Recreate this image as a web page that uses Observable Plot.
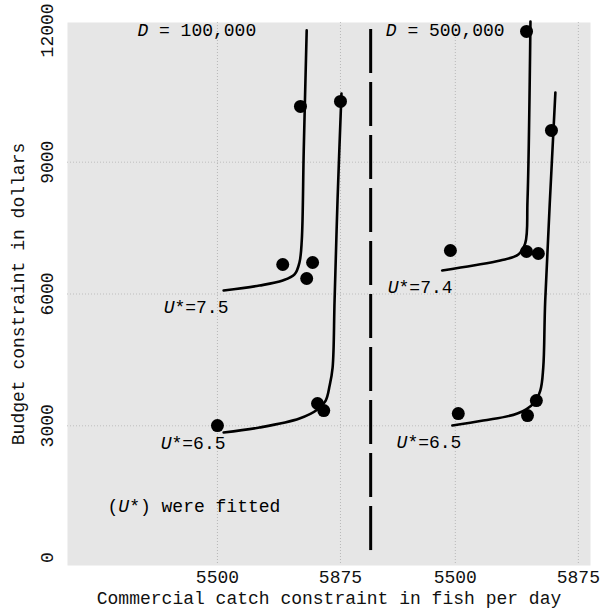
<!DOCTYPE html>
<html><head><meta charset="utf-8">
<script src="https://cdn.jsdelivr.net/npm/d3@7"></script>
<script src="https://cdn.jsdelivr.net/npm/@observablehq/plot@0.6"></script>
<style>html,body{margin:0;padding:0;background:#fff;}</style>
</head><body><div id="chart"></div>
<script>
// ---- data ----
const panelOffset = 725;            // right panel drawn shifted along the shared x scale
const dividerX = 5967;              // dashed separator between the two panels
const xTickValues = [5500, 5875];
const xTickLabels = ["5500", "5875", "5500", "5875"];
const yTicks = [0, 3000, 6000, 9000, 12000];

// Left panel: D = 100,000
const leftU75CurveX = [5519, 5628, 5699, 5735, 5750, 5757, 5763, 5772];
const leftU75CurveY = [6080, 6193, 6307, 6444, 6717, 7218, 9267, 12000];
const leftU75DotsX = [5753, 5699, 5772, 5790];
const leftU75DotsY = [10269, 6672, 6353, 6717];
const leftU65CurveX = [5519, 5628, 5750, 5805, 5830, 5842, 5851, 5857, 5866, 5878];
const leftU65CurveY = [2846, 2960, 3165, 3370, 3575, 3916, 4326, 5852, 8129, 10565];
const leftU65DotsX = [5500, 5805, 5824, 5875];
const leftU65DotsY = [3006, 3507, 3347, 10383];

// Right panel: D = 500,000
const rightU74CurveX = [5460, 5555, 5637, 5692, 5713, 5720, 5729];
const rightU74CurveY = [6535, 6649, 6763, 6899, 7150, 8129, 12200];
const rightU74DotsX = [5485, 5717, 5717, 5753];
const rightU74DotsY = [6990, 11977, 6968, 6922];
const rightU65CurveX = [5491, 5585, 5689, 5738, 5759, 5768, 5774, 5805];
const rightU65CurveY = [3006, 3119, 3279, 3507, 3803, 4326, 5852, 10588];
const rightU65DotsX = [5509, 5720, 5747, 5793];
const rightU65DotsY = [3279, 3233, 3575, 9723];

// Annotations (panel, x, y, text)
const annotPanel = ["L", "R", "L", "L", "R", "R", "L"];
const annotX = [5256, 5288, 5336, 5327, 5294, 5321, 5165];
const annotY = [12000, 12000, 5693, 2596, 6148, 2619, 1161];
const annotText = ["D = 100,000", "D = 500,000", "U*=7.5", "U*=6.5", "U*=7.4", "U*=6.5", "(U*) were fitted"];

// ---- build tables ----
const pos = (panel, x) => panel === "R" ? x + panelOffset : x;
const series = (panel, xs, ys) => xs.map((x, i) => ({x: pos(panel, x), y: ys[i]}));
const curves = [
  series("L", leftU75CurveX, leftU75CurveY),
  series("L", leftU65CurveX, leftU65CurveY),
  series("R", rightU74CurveX, rightU74CurveY),
  series("R", rightU65CurveX, rightU65CurveY)
];
const dots = [].concat(
  series("L", leftU75DotsX, leftU75DotsY),
  series("L", leftU65DotsX, leftU65DotsY),
  series("R", rightU74DotsX, rightU74DotsY),
  series("R", rightU65DotsX, rightU65DotsY)
);
const annots = annotText.map((t, i) => ({x: pos(annotPanel[i], annotX[i]), y: annotY[i], text: t}));
const xTicks = [].concat(xTickValues, xTickValues.map(v => v + panelOffset));

const chart = Plot.plot({
  width: 601,
  height: 610,
  marginLeft: 67,
  marginRight: 11,
  marginTop: 22,
  marginBottom: 45,
  style: {fontFamily: "'Liberation Mono', 'DejaVu Sans Mono', monospace", fontSize: "18px", background: "#fff", color: "#111"},
  x: {domain: [5043, 6637]},
  y: {domain: [-180, 12180]},
  marks: [
    Plot.frame({fill: "#e6e6e6", stroke: null}),
    Plot.ruleX(xTicks, {stroke: "#999", strokeOpacity: 0.6, strokeDasharray: "1,2"}),
    Plot.ruleY(yTicks.slice(1, -1), {stroke: "#999", strokeOpacity: 0.5, strokeDasharray: "1,2"}),
    Plot.axisX({ticks: xTicks, tickFormat: (d, i) => xTickLabels[i], tickSize: 0, tickPadding: 5,
      label: "Commercial catch constraint in fish per day", labelAnchor: "center", labelArrow: "none", labelOffset: 38}),
    Plot.axisY({ticks: yTicks, tickFormat: d => String(d), tickSize: 0, tickPadding: 15, tickRotate: -90,
      label: "Budget constraint in dollars", labelAnchor: "center", labelArrow: "none", labelOffset: 56}),
    Plot.ruleX([dividerX], {y1: 160, y2: 12180, stroke: "#000", strokeWidth: 3, strokeDasharray: "44,9"}),
    ...curves.map(c => Plot.line(c, {x: "x", y: "y", curve: "catmull-rom", stroke: "#000", strokeWidth: 2.6})),
    Plot.dot(dots, {x: "x", y: "y", r: 6.5, fill: "#000", stroke: null}),
    Plot.text(annots, {x: "x", y: "y", text: "text", textAnchor: "start", lineAnchor: "middle", fontSize: 18, fill: "#000", className: "annot"})
  ]
});

// italic variable names (D, U) inside the annotations
d3.select(chart).selectAll(".annot text").each(function () {
  const t = this.textContent;
  const sel = d3.select(this);
  sel.text(null);
  let buf = "";
  const flush = () => { if (buf) { sel.append("tspan").text(buf); buf = ""; } };
  for (const ch of t) {
    if (ch === "D" || ch === "U") { flush(); sel.append("tspan").attr("font-style", "italic").text(ch); }
    else buf += ch;
  }
  flush();
});

document.getElementById("chart").appendChild(chart);
</script>
</body></html>
